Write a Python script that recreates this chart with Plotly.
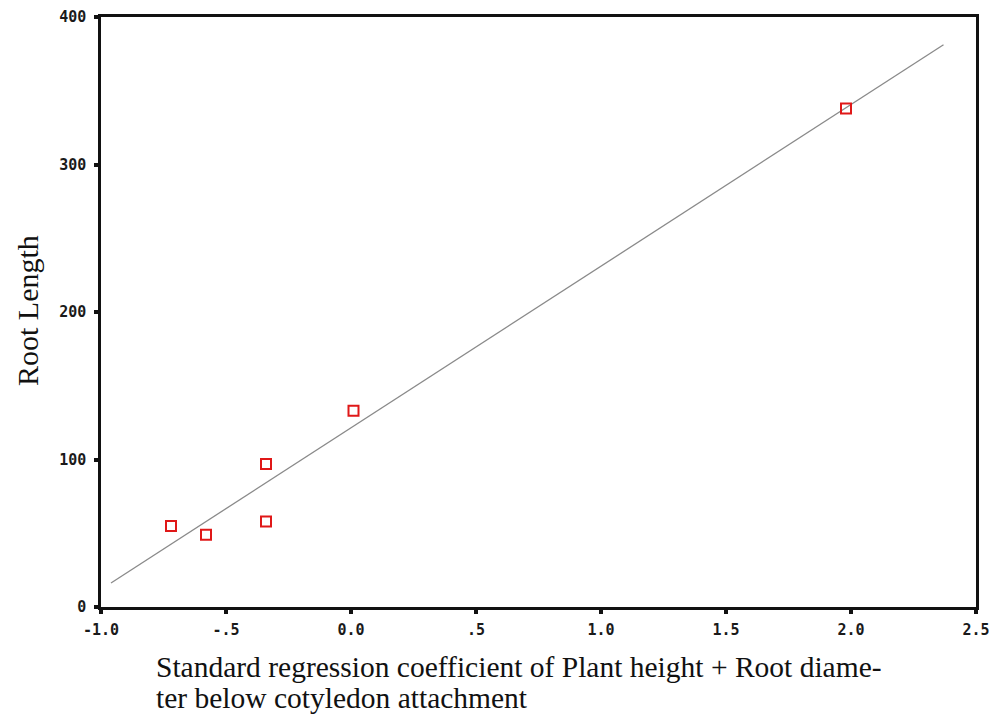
import numpy as np
import plotly.graph_objects as go

# Data
x_vals = [-0.72, -0.58, -0.34, -0.34, 0.01, 1.98]
y_vals = [55, 49, 97, 58, 133, 338]
line_x_range = [-0.96, 2.37]

x_tick_vals = [-1.0, -0.5, 0.0, 0.5, 1.0, 1.5, 2.0, 2.5]
x_tick_text = ["-1.0", "-.5", "0.0", ".5", "1.0", "1.5", "2.0", "2.5"]
y_tick_vals = [0, 100, 200, 300, 400]
y_tick_text = ["0", "100", "200", "300", "400"]

x_title_lines = ["Standard regression coefficient of Plant height + Root diame-",
                 "ter below cotyledon attachment"]
y_title = "Root Length"

slope, intercept = np.polyfit(x_vals, y_vals, 1)
lx = np.array(line_x_range)
ly = slope * lx + intercept

W, H = 989, 716
ml, mr, mt, mb = 101, 13, 17, 109
pw = W - ml - mr
ph = H - mt - mb

fig = go.Figure()
fig.add_trace(go.Scatter(x=lx, y=ly, mode="lines",
                         line=dict(color="#8a8a8a", width=1.3),
                         hoverinfo="skip", showlegend=False))
fig.add_trace(go.Scatter(x=x_vals, y=y_vals, mode="markers",
                         marker=dict(symbol="square-open", size=10,
                                     color="#e01818", line=dict(width=2, color="#e01818")),
                         showlegend=False))

tick_font = dict(family="DejaVu Sans Mono", size=15, color="#1a1a1a", weight="bold")

fig.update_xaxes(range=[-1.0, 2.5], tickvals=x_tick_vals, ticktext=x_tick_text,
                 showgrid=False, zeroline=False, showline=True, linecolor="#111",
                 linewidth=2.5, mirror=True, ticks="outside", ticklen=4, tickwidth=4,
                 tickcolor="#111", tickfont=tick_font, ticklabelstandoff=3,
                 automargin=False, ticklabeloverflow="allow")
fig.update_yaxes(range=[0, 400], tickvals=y_tick_vals, ticktext=y_tick_text,
                 showgrid=False, zeroline=False, showline=True, linecolor="#111",
                 linewidth=2.5, mirror=True, ticks="outside", ticklen=4, tickwidth=4,
                 tickcolor="#111", tickfont=tick_font, ticklabelstandoff=5,
                 automargin=False, ticklabeloverflow="allow")

fig.add_annotation(text=y_title, xref="paper", yref="paper",
                   x=(27 - ml) / pw, y=(H - mb - 311) / ph,
                   xanchor="center", yanchor="middle", textangle=-90,
                   showarrow=False,
                   font=dict(family="Liberation Serif", size=30, color="#111"))
for line_text, cy in zip(x_title_lines, [667, 698]):
    fig.add_annotation(text=line_text, xref="paper", yref="paper",
                       x=(154 - ml) / pw, y=(H - mb - cy) / ph,
                       xanchor="left", yanchor="middle", align="left",
                       showarrow=False,
                       font=dict(family="Liberation Serif", size=29.5, color="#111"))

fig.update_layout(width=W, height=H, margin=dict(l=ml, r=mr, t=mt, b=mb, autoexpand=False),
                  plot_bgcolor="white", paper_bgcolor="white")

fig.write_html("out.html")
